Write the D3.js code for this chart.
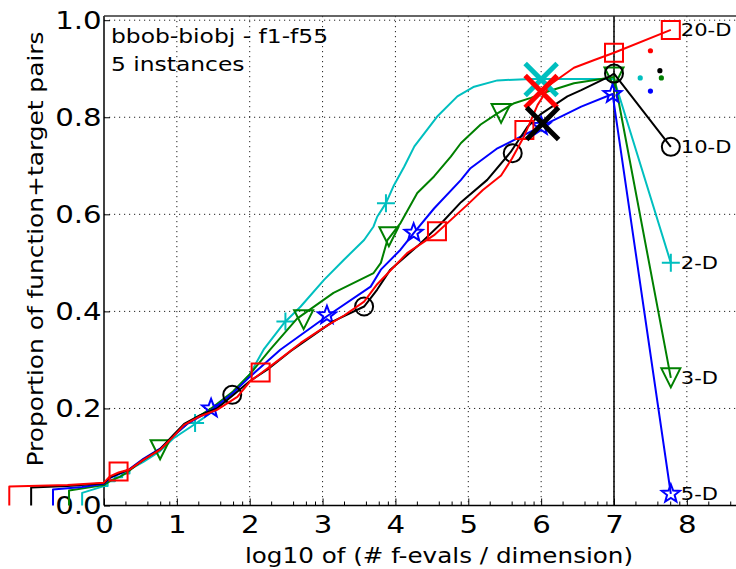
<!DOCTYPE html>
<html lang="en">
<head>
<meta charset="UTF-8">
<title>bbob-biobj ECDF</title>
<script src="https://cdn.jsdelivr.net/npm/d3@7"></script>
<style>
    body { margin: 0; background: #fff; }
    text { font-family: "DejaVu Sans", sans-serif; }
</style>
</head>
<body>
<svg id="chart"></svg>
<script>
    // dimensions, in drawing order (red 20-D ends up on top)
    const dims = ['2-D', '3-D', '5-D', '10-D', '20-D'];

    // ECDF curves: [log10(#f-evals/dim), proportion]
    const curve2 = [[-0.3, 0], [-0.3, 0.026], [0, 0.04], [0.05, 0.04], [0.05, 0.05], [0.15, 0.05], [0.15, 0.058], [0.25, 0.058], [0.25, 0.066], [0.35, 0.066], [0.35, 0.074], [0.54, 0.09], [0.77, 0.112], [0.95, 0.138], [1.25, 0.168], [1.55, 0.2], [1.8, 0.238], [2.0, 0.27], [2.19, 0.321], [2.47, 0.376], [2.7, 0.41], [3.02, 0.465], [3.29, 0.506], [3.57, 0.547], [3.7, 0.575], [3.75, 0.595], [3.87, 0.623], [3.98, 0.66], [4.12, 0.698], [4.26, 0.74], [4.57, 0.801], [4.85, 0.843], [5.08, 0.863], [5.4, 0.876], [5.86, 0.879], [7.0, 0.879], [7.78, 0.5]];
    const curve3 = [[-0.48, 0], [-0.48, 0.031], [0, 0.042], [0.1, 0.052], [0.2, 0.058], [0.3, 0.066], [0.54, 0.095], [0.77, 0.115], [0.95, 0.143], [1.14, 0.168], [1.47, 0.2], [1.77, 0.235], [2.0, 0.27], [2.28, 0.321], [2.65, 0.385], [3.15, 0.438], [3.7, 0.479], [3.8, 0.5], [3.89, 0.547], [4.07, 0.582], [4.3, 0.644], [4.53, 0.678], [4.76, 0.719], [4.9, 0.747], [5.17, 0.785], [5.4, 0.808], [5.63, 0.829], [5.86, 0.84], [6.09, 0.853], [6.45, 0.87], [7.0, 0.883], [7.78, 0.263]];
    const curve5 = [[-0.7, 0], [-0.7, 0.033], [-0.3, 0.038], [0, 0.045], [0.1, 0.058], [0.2, 0.064], [0.35, 0.075], [0.54, 0.096], [0.77, 0.117], [0.95, 0.143], [1.14, 0.168], [1.47, 0.196], [1.77, 0.232], [2.0, 0.265], [2.42, 0.321], [3.06, 0.39], [3.66, 0.451], [3.8, 0.486], [4.07, 0.527], [4.25, 0.561], [4.53, 0.612], [4.9, 0.671], [5.03, 0.695], [5.4, 0.736], [5.72, 0.76], [6.09, 0.788], [6.55, 0.822], [6.98, 0.848], [7.78, 0.024]];
    const curve10 = [[-1.0, 0], [-1.0, 0.037], [-0.5, 0.04], [0, 0.046], [0.08, 0.058], [0.2, 0.066], [0.35, 0.074], [0.54, 0.094], [0.77, 0.116], [0.95, 0.145], [1.1, 0.168], [1.32, 0.186], [1.55, 0.2], [1.77, 0.227], [2.0, 0.256], [2.24, 0.28], [2.56, 0.318], [3.15, 0.38], [3.57, 0.41], [3.75, 0.445], [3.93, 0.486], [4.3, 0.534], [4.62, 0.58], [4.9, 0.625], [5.26, 0.671], [5.58, 0.728], [5.81, 0.78], [5.99, 0.806], [6.36, 0.843], [6.55, 0.856], [6.96, 0.886], [7.0, 0.89], [7.78, 0.739]];
    const curve20 = [[-1.3, 0], [-1.3, 0.039], [-0.5, 0.042], [0, 0.047], [0.08, 0.06], [0.2, 0.068], [0.35, 0.074], [0.54, 0.094], [0.77, 0.115], [0.95, 0.142], [1.1, 0.166], [1.32, 0.184], [1.55, 0.197], [1.83, 0.224], [2.0, 0.255], [2.15, 0.272], [2.4, 0.3], [2.7, 0.335], [3.0, 0.365], [3.3, 0.392], [3.57, 0.42], [3.75, 0.456], [4.16, 0.52], [4.53, 0.557], [4.99, 0.62], [5.2, 0.65], [5.45, 0.68], [5.6, 0.715], [5.77, 0.762], [5.95, 0.825], [6.13, 0.868], [6.45, 0.902], [6.73, 0.918], [7.0, 0.933], [7.78, 0.98]];

    // marker positions along each curve
    const marks2 = [[1.25, 0.17], [2.49, 0.379], [3.87, 0.623], [7.78, 0.5]];
    const marks3 = [[0.77, 0.115], [2.74, 0.383], [3.91, 0.554], [5.45, 0.808], [7.0, 0.883], [7.78, 0.263]];
    const marks5 = [[1.47, 0.2], [3.06, 0.392], [4.25, 0.562], [6.0, 0.782], [6.98, 0.848], [7.78, 0.024]];
    const marks10 = [[1.76, 0.228], [3.57, 0.41], [5.61, 0.726], [7.0, 0.89], [7.78, 0.739]];
    const marks20 = [[0.2, 0.07], [2.15, 0.274], [4.57, 0.565], [5.77, 0.774], [7.0, 0.933], [7.78, 0.98]];

    // big crosses at the budget, and dots on the right: [series index, x, y]
    const crosses = [[0, 6.0, 0.878], [4, 6.0, 0.853], [3, 6.02, 0.787]];
    const dots = [[4, 7.5, 0.937], [3, 7.63, 0.896], [1, 7.65, 0.881], [0, 7.36, 0.881], [2, 7.5, 0.854]];

    const xTicks = [0, 1, 2, 3, 4, 5, 6, 7, 8];
    const yTicks = [0, 0.2, 0.4, 0.6, 0.8, 1.0];
    const yTickLabels = ['0.0', '0.2', '0.4', '0.6', '0.8', '1.0'];

    const curves = [curve2, curve3, curve5, curve10, curve20];
    const marks = [marks2, marks3, marks5, marks10, marks20];
    const colors = ['#00bfbf', '#008000', '#0000ff', '#000000', '#ff0000'];
    const shapes = ['plus', 'tri', 'star', 'circle', 'square'];

    const W = 736, H = 569;
    const stretch = 1.17; // glyphs in the original are wider than DejaVu
    const svg = d3.select('#chart').attr('width', W).attr('height', H);

    const x = d3.scaleLinear().domain([0, 7]).range([104, 614]);
    const y = d3.scaleLinear().domain([0, 1]).range([505.5, 20.2]);
    const plotTop = 16, plotBottom = 505.5, plotLeft = 104, plotRight = W;

    // text helper: wide text placed at px,py (optionally rotated)
    function wideText(parent, px, py, str, size, anchor, rot, sx) {
        return parent.append('text')
            .attr('transform', 'translate(' + px + ',' + py + ')' + (rot ? ' rotate(' + rot + ')' : '') + ' scale(' + (sx || stretch) + ',1)')
            .attr('text-anchor', anchor || 'start')
            .attr('font-size', size)
            .attr('fill', '#000')
            .text(str);
    }

    // grid
    const grid = svg.append('g').attr('stroke', '#222').attr('stroke-width', 1).attr('stroke-dasharray', '1.2,3.8');
    grid.selectAll('.gx').data(xTicks.filter(d => d > 0)).enter().append('line')
        .attr('x1', d => x(d)).attr('x2', d => x(d)).attr('y1', plotTop).attr('y2', plotBottom);
    grid.selectAll('.gy').data(yTicks.filter(d => d > 0)).enter().append('line')
        .attr('x1', plotLeft).attr('x2', plotRight).attr('y1', d => y(d)).attr('y2', d => y(d));

    // vertical line at max budget
    svg.append('line').attr('x1', x(7)).attr('x2', x(7)).attr('y1', plotTop).attr('y2', plotBottom)
        .attr('stroke', '#000').attr('stroke-width', 1.5);

    // axes
    const xAxis = d3.axisBottom(x).tickValues(xTicks).tickSize(-7).tickPadding(10).tickFormat(d3.format('d'));
    const gx = svg.append('g').attr('transform', 'translate(0,' + plotBottom + ')').call(xAxis);
    gx.select('.domain').attr('d', 'M' + plotLeft + ',0H' + plotRight).attr('stroke-width', 1.5);
    gx.selectAll('text').attr('font-size', 25).attr('font-family', 'DejaVu Sans').attr('fill', '#000')
        .attr('transform', 'scale(' + stretch + ',1)');

    // minor ticks on the bottom axis
    const minor = [];
    xTicks.forEach(d => [2, 4, 6, 8].forEach(m => minor.push(d + Math.log10(m))));
    gx.selectAll('.minor').data(minor.filter(d => x(d) < plotRight)).enter().append('line')
        .attr('x1', d => x(d)).attr('x2', d => x(d)).attr('y1', 0).attr('y2', -4)
        .attr('stroke', '#000').attr('stroke-width', 1);

    const yAxis = d3.axisLeft(y).tickValues(yTicks).tickSize(-6).tickPadding(2).tickFormat((d, i) => yTickLabels[i]);
    const gy = svg.append('g').attr('transform', 'translate(' + plotLeft + ',0)').call(yAxis);
    gy.select('.domain').attr('d', 'M0,' + plotBottom + 'V' + plotTop).attr('stroke-width', 1.5);
    gy.selectAll('text').attr('font-size', 25).attr('font-family', 'DejaVu Sans').attr('fill', '#000')
        .attr('transform', 'scale(' + stretch + ',1)');

    // top spine
    svg.append('line').attr('x1', plotLeft).attr('x2', plotRight).attr('y1', plotTop).attr('y2', plotTop)
        .attr('stroke', '#333').attr('stroke-width', 1.5);

    // axis labels
    wideText(svg, 439, 563, 'log10 of (# f-evals / dimension)', 22, 'middle', 0, 1.12);
    wideText(svg, 43, 249, 'Proportion of function+target pairs', 22, 'middle', -90, 1.13);

    // annotation
    wideText(svg, 111, 43, 'bbob-biobj - f1-f55', 20);
    wideText(svg, 111, 71, '5 instances', 20);

    // marker path generators
    function markerPath(shape, r) {
        if (shape === 'plus') return 'M' + (-r) + ',0H' + r + 'M0,' + (-r) + 'V' + r;
        if (shape === 'tri') return 'M' + (-r) + ',' + (-r) + 'L' + r + ',' + (-r) + 'L0,' + r + 'Z';
        if (shape === 'square') return 'M' + (-r) + ',' + (-r) + 'H' + r + 'V' + r + 'H' + (-r) + 'Z';
        if (shape === 'circle') return 'M' + r + ',0A' + r + ',' + r + ' 0 1,1 ' + (-r) + ',0A' + r + ',' + r + ' 0 1,1 ' + r + ',0Z';
        if (shape === 'star') {
            let p = '';
            for (let k = 0; k < 10; k++) {
                const rr = k % 2 === 0 ? r : r * 0.42;
                const a = -Math.PI / 2 + k * Math.PI / 5;
                p += (k === 0 ? 'M' : 'L') + (rr * Math.cos(a)).toFixed(2) + ',' + (rr * Math.sin(a)).toFixed(2);
            }
            return p + 'Z';
        }
        return '';
    }
    const markerR = {plus: 9, tri: 9.5, star: 9.5, circle: 9, square: 9};

    const line = d3.line().x(d => x(d[0])).y(d => y(d[1]));

    dims.forEach(function (dim, i) {
        const g = svg.append('g').attr('class', 'series');
        g.append('path').datum(curves[i]).attr('d', line)
            .attr('fill', 'none').attr('stroke', colors[i]).attr('stroke-width', 2).attr('stroke-linejoin', 'round');
        g.selectAll('.mk').data(marks[i]).enter().append('path')
            .attr('transform', d => 'translate(' + x(d[0]) + ',' + y(d[1]) + ')')
            .attr('d', markerPath(shapes[i], markerR[shapes[i]]))
            .attr('fill', 'none').attr('stroke', colors[i]).attr('stroke-width', 2);
        const last = marks[i][marks[i].length - 1];
        wideText(g, x(last[0]) + 10, y(last[1]) + 6.5, dim, 18);
    });

    // big crosses
    svg.selectAll('.cross').data(crosses).enter().append('path')
        .attr('transform', d => 'translate(' + x(d[1]) + ',' + y(d[2]) + ')')
        .attr('d', 'M-16,-16L16,16M16,-16L-16,16')
        .attr('stroke', d => colors[d[0]]).attr('stroke-width', 5).attr('fill', 'none');

    // dots
    svg.selectAll('.dot').data(dots).enter().append('circle')
        .attr('cx', d => x(d[1])).attr('cy', d => y(d[2])).attr('r', 2.6)
        .attr('fill', d => colors[d[0]]);
</script>
</body>
</html>
